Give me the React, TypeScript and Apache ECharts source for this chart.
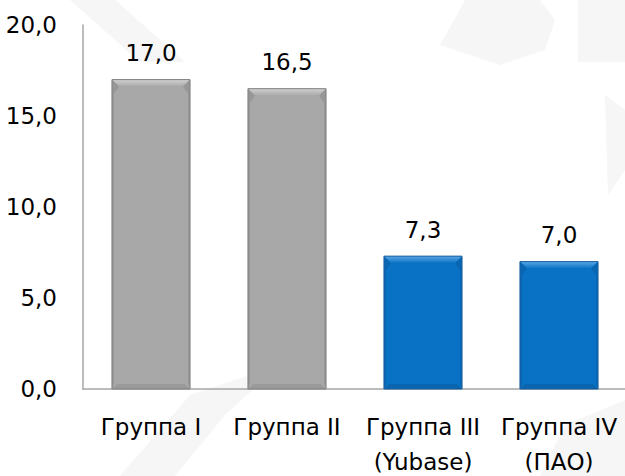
import React, { useEffect, useRef } from "react";
import * as echarts from "echarts";

const categories = ["Группа I", "Группа II", "Группа III\n(Yubase)", "Группа IV\n(ПАО)"];
const values = [17.0, 16.5, 7.3, 7.0];
const barKinds = ["gray", "gray", "blue", "blue"];
const yTicks = { min: 0, max: 20, interval: 5 };

const palettes: Record<string, any> = {
  gray: { main: "#a8a8a8", dark: "#979797", darker: "#8c8c8c", light: "#d2d2d2", border: "#808080" },
  blue: { main: "#0a72c4", dark: "#0866b2", darker: "#055898", light: "#5aa6e6", border: "#1d5f9c" },
};

const FONT = "'DejaVu Sans', Verdana, sans-serif";

export default function App() {
  const ref = useRef<HTMLDivElement>(null);
  useEffect(() => {
    document.body.style.margin = "0";
    const chart = echarts.init(ref.current!, undefined, { renderer: "svg" });
    const fmt = (v: number) => v.toFixed(1).replace(".", ",");
    const wm = "#f6f6f6";
    chart.setOption({
      animation: false,
      backgroundColor: "#ffffff",
      graphic: [
        { type: "polygon", z: -10, shape: { points: [[70, 0], [115, 0], [185, 62], [140, 62]] }, style: { fill: wm } },
        { type: "polygon", z: -10, shape: { points: [[440, 45], [500, 65], [545, 50], [555, 20], [540, 0], [465, 0]] }, style: { fill: wm } },
        { type: "polygon", z: -10, shape: { points: [[578, 0], [625, 0], [625, 62], [578, 62]] }, style: { fill: wm } },
        { type: "polygon", z: -10, shape: { points: [[605, 95], [625, 110], [625, 170], [608, 195]] }, style: { fill: wm } },
        { type: "polygon", z: -10, shape: { points: [[120, 476], [190, 395], [280, 365], [225, 415], [175, 476]] }, style: { fill: wm } },
        { type: "polygon", z: -10, shape: { points: [[540, 476], [565, 425], [625, 400], [625, 476]] }, style: { fill: wm } },
      ],
      grid: { left: 83, right: -2, top: 25, bottom: 87, containLabel: false, outerBoundsMode: "none" },
      xAxis: {
        type: "category",
        data: categories,
        axisLine: { show: true, lineStyle: { color: "#a6a6a6", width: 1.5 } },
        axisTick: { show: false },
        axisLabel: { color: "#000", fontSize: 23, fontFamily: FONT, lineHeight: 35, margin: 20, interval: 0 },
        splitLine: { show: false },
      },
      yAxis: {
        type: "value",
        min: yTicks.min,
        max: yTicks.max,
        interval: yTicks.interval,
        axisLine: { show: true, lineStyle: { color: "#a6a6a6", width: 1.5 } },
        axisTick: { show: false },
        splitLine: { show: false },
        axisLabel: { color: "#000", fontSize: 23, fontFamily: FONT, margin: 26, formatter: fmt },
      },
      series: [
        {
          type: "custom",
          data: values.map((v, i) => [i, v]),
          renderItem: (params: any, api: any) => {
            const idx = api.value(0);
            const v = api.value(1);
            const top = api.coord([idx, v]);
            const base = api.coord([idx, 0]);
            const bw = api.size([1, 0])[0] * 0.574;
            const p = palettes[barKinds[params.dataIndex]];
            const x0 = top[0] - bw / 2;
            const x1 = top[0] + bw / 2;
            const y0 = top[1];
            const y1 = base[1];
            const t = 7;
            const s = 2;
            const b = 5;
            return {
              type: "group",
              children: [
                { type: "rect", shape: { x: x0, y: y0, width: bw, height: y1 - y0 }, style: { fill: p.main } },
                { type: "polygon", shape: { points: [[x0, y0], [x1, y0], [x1 - t, y0 + t], [x0 + t, y0 + t]] }, style: { fill: new echarts.graphic.LinearGradient(0, 0, 0, 1, [{ offset: 0, color: p.light }, { offset: 1, color: p.main }]) } },
                { type: "polygon", shape: { points: [[x0, y0], [x0 + t, y0 + t], [x0 + s, y0 + 2 * t], [x0 + s, y1 - b], [x0, y1]] }, style: { fill: p.dark } },
                { type: "polygon", shape: { points: [[x1, y0], [x1 - t, y0 + t], [x1 - s, y0 + 2 * t], [x1 - s, y1 - b], [x1, y1]] }, style: { fill: p.dark } },
                { type: "polygon", shape: { points: [[x0, y1], [x1, y1], [x1 - b, y1 - b], [x0 + b, y1 - b]] }, style: { fill: p.darker, opacity: 0.5 } },
                { type: "rect", shape: { x: x0, y: y0, width: bw, height: y1 - y0 }, style: { fill: "none", stroke: p.border, lineWidth: 1 } },
                { type: "text", x: top[0], y: y0 - 15, style: { text: fmt(v), fontSize: 23, fontFamily: FONT, fill: "#000", align: "center", verticalAlign: "bottom" } },
              ],
            };
          },
        },
      ],
    });
    return () => chart.dispose();
  }, []);
  return <div ref={ref} style={{ width: 625, height: 476 }} />;
}
